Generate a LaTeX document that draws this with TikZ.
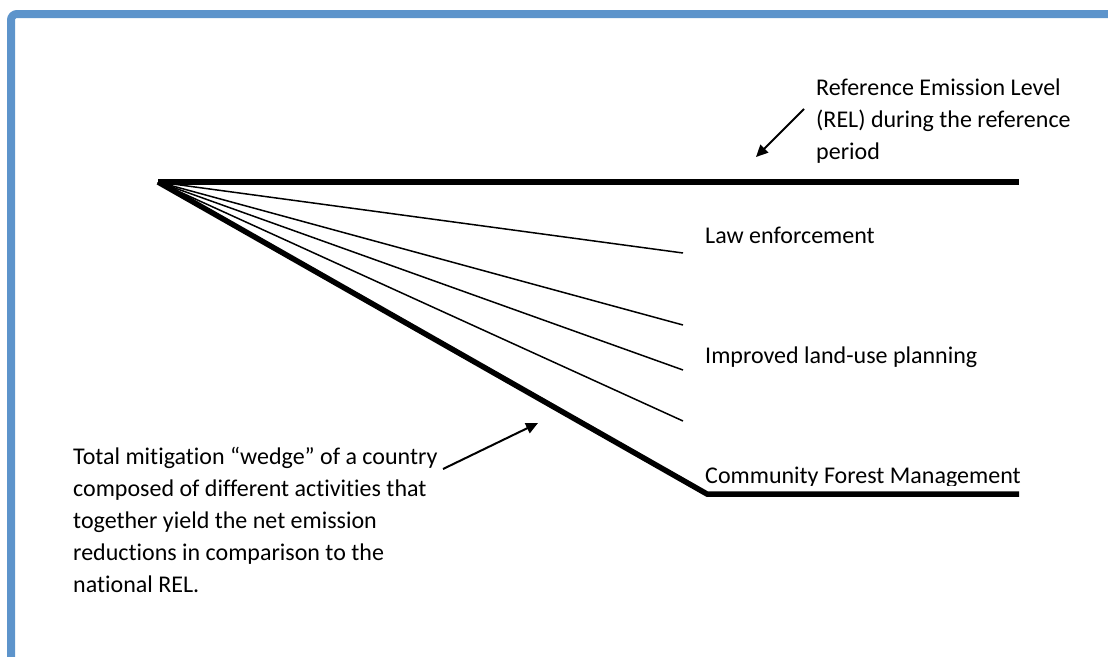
\documentclass[tikz,border=0pt]{standalone}
\usepackage{fontspec}
\setmainfont{Carlito}[Ligatures=NoCommon]
\usetikzlibrary{arrows.meta}
\definecolor{frameblue}{RGB}{93,148,203}

\begin{document}
\begin{tikzpicture}[x=1pt, y=-1pt, font=\fontsize{24}{32}\selectfont,
  thickline/.style={line width=5.5pt},
  thinline/.style={line width=1.5pt},
  pointer/.style={line width=2pt, -{Triangle[length=12pt,width=11pt]}},
  textlabel/.style={inner sep=0pt, anchor=base west, align=left}]
  \path[use as bounding box, clip] (0,0) rectangle (1108,656);
  \draw[frameblue, line width=8pt, rounded corners=6pt] (11,700) -- (11,14) -- (1200,14);

  % reference level and total wedge
  \coordinate (origin) at (158,182);
  \coordinate (relend) at (1019,182);
  \coordinate (wedgecorner) at (707,494);
  \coordinate (wedgeend) at (1019,494);
  \draw[thickline] (origin) -- (relend);
  \draw[thickline] (origin) -- (wedgecorner) -- (wedgeend);

  % single activities
  \foreach \y [count=\i] in {253,325,370,421} {
    \coordinate (act\i) at (683,\y);
    \draw[thinline] (origin) -- (act\i);
  }

  % base anchor = last line
  \node[textlabel] (reltext) at (816,159) {Reference Emission Level\\(REL) during the reference\\period};
  \node[textlabel] (law) at (705,243) {Law enforcement};
  \node[textlabel] (landuse) at (705,363) {Improved land-use planning};
  \begin{scope}
    \clip (690,440) rectangle (1040,485);
    \node[textlabel] (cfm) at (705,483) {Community Forest Management};
  \end{scope}
  \node[textlabel] (wedgetext) at (73,592) {Total mitigation “wedge” of a country\\composed of different activities that\\together yield the net emission\\reductions in comparison to the\\national REL.};

  % pointers
  \coordinate (reltail) at (804,109);
  \coordinate (reltip) at (756,157);
  \coordinate (wedgetail) at (443,469);
  \coordinate (wedgetip) at (538,423);
  \draw[pointer] (reltail) -- (reltip);
  \draw[pointer] (wedgetail) -- (wedgetip);
\end{tikzpicture}
\end{document}
